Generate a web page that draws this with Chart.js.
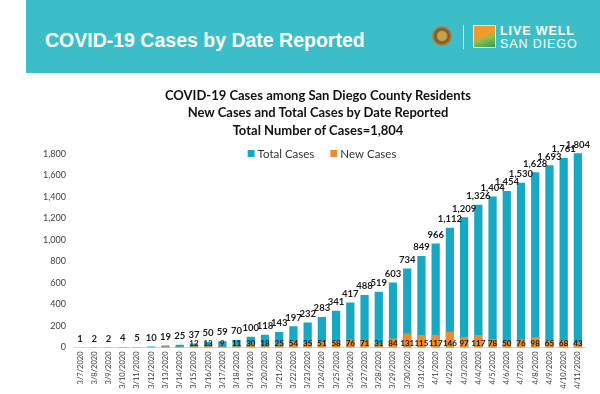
<!DOCTYPE html>
<html>
<head>
<meta charset="utf-8">
<script src="https://cdn.jsdelivr.net/npm/chart.js@4"></script>
<style>
  html, body { margin: 0; padding: 0; background: #fff; }
  #wrap { position: relative; width: 600px; height: 394px; overflow: hidden; }
  #banner { position: absolute; left: 26px; top: 0; width: 574px; height: 73px; background: #3bbec7; }
  #banner h1 { position: absolute; left: 19px; top: 27px; margin: 0; font: bold 19.5px "Liberation Sans", Arial, sans-serif; color: #fff; line-height: 26px; }
  #seal { position: absolute; left: 406px; top: 26px; width: 20px; height: 20px; border-radius: 50%;
          background: radial-gradient(circle, #c9a04a 0 30%, #6b5a2a 45%, #b58a3c 70%, #4d4220 100%); }
  #divider { position: absolute; left: 437px; top: 25px; width: 1px; height: 24px; background: rgba(255,255,255,0.7); }
  #logo { position: absolute; left: 447px; top: 25px; width: 21px; height: 21px; border: 1px solid #e8f6f7;
          background: linear-gradient(160deg, #f29a2e 0 45%, #8cc04a 60%, #2f9a5a 100%); }
  #lw1, #lw2 { position: absolute; left: 474px; margin: 0; color: #fff; font-family: "Liberation Sans", Arial, sans-serif; letter-spacing: 0.9px; }
  #lw1 { top: 24px; font-size: 12.5px; font-weight: bold; }
  #lw2 { top: 37px; font-size: 12.5px; }
  .ttl { position: absolute; left: 0; width: 636px; text-align: center; margin: 0; font: bold 13px "Lato", sans-serif; color: #111; line-height: 18px; }
  canvas { position: absolute; left: 0; top: 0; }
</style>
</head>
<body>
<div id="wrap">
  <canvas id="barChart" width="600" height="394"></canvas>
  <div id="banner">
    <h1>COVID-19 Cases by Date Reported</h1>
    <div id="seal"></div>
    <div id="divider"></div>
    <div id="logo"></div>
    <p id="lw1">LIVE WELL</p>
    <p id="lw2">SAN DIEGO</p>
  </div>
  <p class="ttl" style="top:86px">COVID-19 Cases among San Diego County Residents</p>
  <p class="ttl" style="top:103px">New Cases and Total Cases by Date Reported</p>
  <p class="ttl" style="top:121px">Total Number of Cases=1,804</p>
</div>
<script>
// dates reported
const dates = [
    '3/7/2020', '3/8/2020', '3/9/2020', '3/10/2020', '3/11/2020', '3/12/2020', '3/13/2020',
    '3/14/2020', '3/15/2020', '3/16/2020', '3/17/2020', '3/18/2020', '3/19/2020', '3/20/2020',
    '3/21/2020', '3/22/2020', '3/23/2020', '3/24/2020', '3/25/2020', '3/26/2020', '3/27/2020',
    '3/28/2020', '3/29/2020', '3/30/2020', '3/31/2020', '4/1/2020', '4/2/2020', '4/3/2020',
    '4/4/2020', '4/5/2020', '4/6/2020', '4/7/2020', '4/8/2020', '4/9/2020', '4/10/2020', '4/11/2020'
];
const totalCases = [
    1, 2, 2, 4, 5, 10, 19, 25, 37, 50, 59, 70, 100, 118, 143, 197, 232, 283,
    341, 417, 488, 519, 603, 734, 849, 966, 1112, 1209, 1326, 1404, 1454, 1530, 1628, 1693, 1761, 1804
];
const newCases = [
    1, 1, 0, 2, 1, 5, 9, 6, 12, 13, 9, 11, 30, 18, 25, 54, 35, 51,
    58, 76, 71, 31, 84, 131, 115, 117, 146, 97, 117, 78, 50, 76, 98, 65, 68, 43
];
const yTicks = [0, 200, 400, 600, 800, 1000, 1200, 1400, 1600, 1800];

// new case labels only start showing from 3/15 in the original
const firstNewLabel = 8;

const fmt = n => n.toLocaleString('en-US');

const barLabels = {
    id: 'barLabels',
    afterDatasetsDraw(chart) {
        const ctx = chart.ctx;
        const bottom = chart.chartArea.bottom;
        ctx.save();
        ctx.fillStyle = '#1a1a1a';
        ctx.textAlign = 'center';
        // total cases above the bars
        const totMeta = chart.getDatasetMeta(1);
        ctx.font = 'bold 9.5px Lato';
        ctx.textBaseline = 'bottom';
        totMeta.data.forEach((bar, i) => {
            ctx.fillText(fmt(totalCases[i]), bar.x, bar.y - 4);
        });
        // new cases at the base
        const newMeta = chart.getDatasetMeta(0);
        ctx.font = 'bold 8px Lato';
        ctx.textBaseline = 'middle';
        newMeta.data.forEach((bar, i) => {
            if (i < firstNewLabel) return;
            ctx.fillText(fmt(newCases[i]), bar.x, bottom - 4);
        });
        ctx.restore();
    }
};

// horizontal key sitting inside the top of the plot, like the original
const keyLegend = {
    id: 'keyLegend',
    afterDraw(chart) {
        const ctx = chart.ctx;
        const items = chart.data.datasets.slice().reverse();
        ctx.save();
        ctx.font = '11.5px Lato';
        ctx.textBaseline = 'middle';
        ctx.textAlign = 'left';
        const box = 7, gap = 3, between = 16;
        let total = 0;
        items.forEach((d, i) => {
            total += box + gap + ctx.measureText(d.label).width + (i ? between : 0);
        });
        let x = 322 - total / 2;
        const y = 153.5;
        items.forEach(d => {
            ctx.fillStyle = d.backgroundColor;
            ctx.fillRect(x, y - box / 2, box, box);
            x += box + gap;
            ctx.fillStyle = '#333';
            ctx.fillText(d.label, x, y + 0.5);
            x += ctx.measureText(d.label).width + between;
        });
        ctx.restore();
    }
};

const ctx = document.getElementById('barChart').getContext('2d');
new Chart(ctx, {
    type: 'bar',
    data: {
        labels: dates,
        datasets: [{
            label: 'New Cases',
            data: newCases,
            backgroundColor: '#ee8a2f',
            grouped: false,
            categoryPercentage: 0.58,
            barPercentage: 1
        }, {
            label: 'Total Cases',
            data: totalCases,
            backgroundColor: '#17a8c4',
            grouped: false,
            categoryPercentage: 0.58,
            barPercentage: 1
        }]
    },
    options: {
        responsive: false,
        animation: false,
        layout: { padding: { top: 143, right: 15, bottom: 0, left: 0 } },
        plugins: {
            tooltip: { enabled: false },
            legend: { display: false }
        },
        scales: {
            x: {
                grid: { display: false, drawTicks: false },
                border: { display: true, color: '#d6d6d6' },
                ticks: {
                    minRotation: 90,
                    maxRotation: 90,
                    autoSkip: false,
                    padding: 4,
                    color: '#3a3a3a',
                    font: { family: 'Lato', size: 7.5 }
                },
                afterFit: s => { s.height = 46.5; }
            },
            y: {
                min: 0,
                max: 1900,
                grid: { display: false, drawTicks: false },
                border: { display: false },
                afterBuildTicks: s => { s.ticks = yTicks.map(v => ({ value: v })); },
                ticks: {
                    padding: 7,
                    color: '#404040',
                    font: { family: 'Lato', size: 9 },
                    callback: v => fmt(v)
                },
                afterFit: s => { s.width = 73; }
            }
        }
    },
    plugins: [barLabels, keyLegend]
});
</script>
</body>
</html>
